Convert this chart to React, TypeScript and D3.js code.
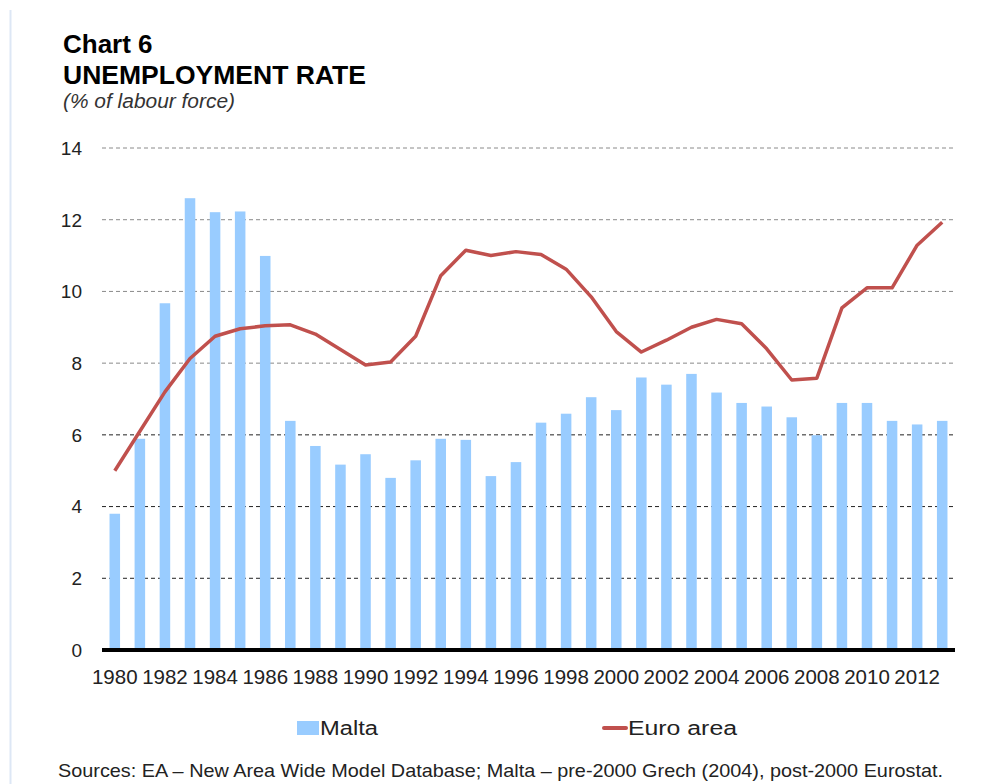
import React from 'react';
import * as d3 from 'd3';

const years = d3.range(1980, 2014);
const malta = [3.8, 5.89, 9.67, 12.6, 12.21, 12.23, 10.99, 6.39, 5.69, 5.17, 5.46,
  4.8, 5.29, 5.89, 5.86, 4.85, 5.24, 6.34, 6.59, 7.05, 6.69, 7.6, 7.4,
  7.7, 7.18, 6.89, 6.79, 6.49, 5.99, 6.89, 6.89, 6.39, 6.29, 6.39];
const euroArea = [5.0, 6.1, 7.2, 8.13, 8.75, 8.96, 9.04, 9.07, 8.81, 8.38, 7.95,
  8.03, 8.75, 10.44, 11.15, 11.0, 11.11, 11.03, 10.62, 9.85, 8.88, 8.31, 8.64,
  9.0, 9.22, 9.1, 8.4, 7.53, 7.58, 9.54, 10.1, 10.1, 11.29, 11.93];
const yTicks = [0, 2, 4, 6, 8, 10, 12, 14];
const yearLabels = years.filter((y) => y % 2 === 0);

const font = 'Arial, "Liberation Sans", sans-serif';

export default function App() {
  const width = 988, height = 784;
  const left = 102, right = 955, top = 148, bottom = 650;

  const x = d3.scaleBand<number>().domain(years).range([left, right]).paddingInner(0.58).paddingOuter(0.3);
  const y = d3.scaleLinear().domain([0, 14]).range([bottom, top]);
  const cx = (yr: number) => (x(yr) as number) + x.bandwidth() / 2;

  const line = d3.line<number>()
    .x((_, i) => cx(years[i]))
    .y((d) => y(d));

  return (
    <svg width={width} height={height} style={{ position: 'absolute', left: 0, top: 0, background: '#fff' }}
      fontFamily={font}>
      <line x1={10.5} x2={10.5} y1={10} y2={784} stroke="#dde7f5" strokeWidth={2} />

      <text x={63} y={53} fontSize={26} fontWeight="bold" fill="#000">Chart 6</text>
      <text x={63} y={84} fontSize={26} fontWeight="bold" fill="#000" textLength={303} lengthAdjust="spacingAndGlyphs">UNEMPLOYMENT RATE</text>
      <text x={63} y={108} fontSize={20} fontStyle="italic" fill="#333" textLength={172} lengthAdjust="spacingAndGlyphs">(% of labour force)</text>

      {yTicks.filter((t) => t > 0).map((t) => (
        <line key={t} x1={left} x2={right} y1={y(t)} y2={y(t)}
          stroke={t <= 6 ? '#222' : '#8a8a8a'} strokeWidth={1} strokeDasharray="4,3" />
      ))}
      {yTicks.map((t) => (
        <text key={t} x={82} y={y(t)} dy="0.36em" textAnchor="end" fontSize={19} fill="#222">{t}</text>
      ))}

      {malta.map((v, i) => (
        <rect key={years[i]} x={x(years[i])} y={y(v)} width={x.bandwidth()} height={bottom - y(v)} fill="#99ccff" />
      ))}

      <line x1={left} x2={right} y1={bottom} y2={bottom} stroke="#000" strokeWidth={4} />

      <path d={line(euroArea) || ''} fill="none" stroke="#c0504d" strokeWidth={3.5} strokeLinejoin="round" />

      {yearLabels.map((yr) => (
        <text key={yr} x={cx(yr)} y={684} textAnchor="middle" fontSize={20.5} fill="#222">{yr}</text>
      ))}

      <rect x={297} y={721} width={22} height={14} fill="#99ccff" />
      <text x={320} y={735} fontSize={20} fill="#222" textLength={58} lengthAdjust="spacingAndGlyphs">Malta</text>
      <line x1={604} x2={626} y1={728} y2={728} stroke="#c0504d" strokeWidth={4} strokeLinecap="round" />
      <text x={628} y={735} fontSize={20} fill="#222" textLength={109} lengthAdjust="spacingAndGlyphs">Euro area</text>

      <text x={58} y={777} fontSize={19} fill="#222" textLength={885} lengthAdjust="spacingAndGlyphs">
        Sources: EA – New Area Wide Model Database; Malta – pre-2000 Grech (2004), post-2000 Eurostat.
      </text>
    </svg>
  );
}
